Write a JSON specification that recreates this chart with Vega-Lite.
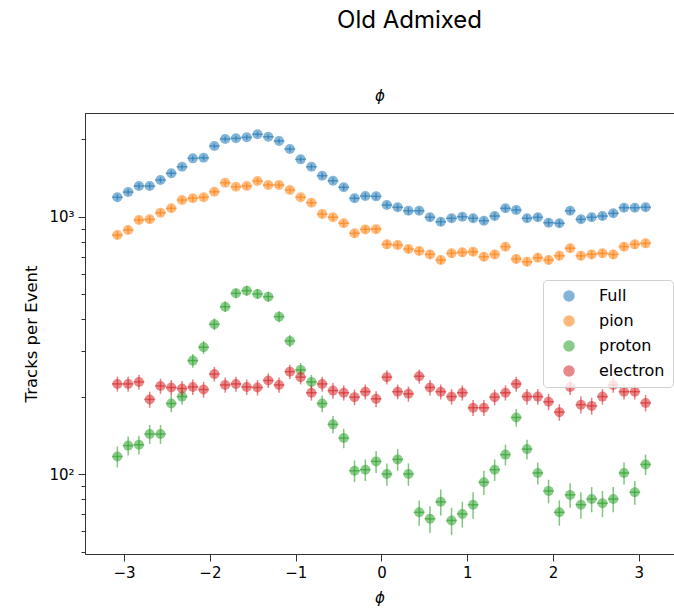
{
  "$schema": "https://vega.github.io/schema/vega-lite/v6.json",
  "width": 589,
  "height": 441,
  "autosize": {"type": "none"},
  "padding": {"left": 85, "top": 113, "right": 0, "bottom": 59},
  "background": "white",
  "title": {"text": "Old Admixed", "font": "Inter", "fontSize": 24, "fontWeight": "normal", "color": "#000", "anchor": "middle", "frame": "group", "dx": 30, "offset": 55},
  "config": {
    "view": {"stroke": "#333", "strokeWidth": 1},
    "axis": {"labelFont": "DejaVu Sans", "titleFont": "DejaVu Sans", "labelColor": "#000", "titleColor": "#000", "labelFontSize": 15, "titleFontSize": 16.5, "titleFontWeight": "normal", "domainColor": "#333", "tickColor": "#333", "grid": false}
  },
  "resolve": {"axis": {"x": "independent", "y": "independent"}},
  "data": {"values": [
    {"s":"Full","x":-3.0788,"v":1190,"e":34},{"s":"Full","x":-2.9531,"v":1247,"e":35},{"s":"Full","x":-2.8274,"v":1316,"e":36},{"s":"Full","x":-2.7018,"v":1316,"e":36},{"s":"Full","x":-2.5761,"v":1389,"e":37},{"s":"Full","x":-2.4504,"v":1475,"e":38},{"s":"Full","x":-2.3248,"v":1564,"e":40},{"s":"Full","x":-2.1991,"v":1686,"e":41},{"s":"Full","x":-2.0735,"v":1695,"e":41},{"s":"Full","x":-1.9478,"v":1883,"e":43},{"s":"Full","x":-1.8221,"v":2004,"e":45},{"s":"Full","x":-1.6965,"v":2017,"e":45},{"s":"Full","x":-1.5708,"v":2035,"e":45},{"s":"Full","x":-1.4451,"v":2091,"e":46},{"s":"Full","x":-1.3195,"v":2046,"e":45},{"s":"Full","x":-1.1938,"v":1969,"e":44},{"s":"Full","x":-1.0681,"v":1833,"e":43},{"s":"Full","x":-0.9425,"v":1671,"e":41},{"s":"Full","x":-0.8168,"v":1564,"e":40},{"s":"Full","x":-0.6912,"v":1443,"e":38},{"s":"Full","x":-0.5655,"v":1380,"e":37},{"s":"Full","x":-0.4398,"v":1301,"e":36},{"s":"Full","x":-0.3142,"v":1179,"e":34},{"s":"Full","x":-0.1885,"v":1203,"e":35},{"s":"Full","x":-0.0628,"v":1200,"e":35},{"s":"Full","x":0.0628,"v":1111,"e":33},{"s":"Full","x":0.1885,"v":1088,"e":33},{"s":"Full","x":0.3142,"v":1055,"e":32},{"s":"Full","x":0.4398,"v":1055,"e":32},{"s":"Full","x":0.5655,"v":995,"e":32},{"s":"Full","x":0.6912,"v":956,"e":31},{"s":"Full","x":0.8168,"v":986,"e":31},{"s":"Full","x":0.9425,"v":1000,"e":32},{"s":"Full","x":1.0681,"v":986,"e":31},{"s":"Full","x":1.1938,"v":965,"e":31},{"s":"Full","x":1.3195,"v":1006,"e":32},{"s":"Full","x":1.4451,"v":1078,"e":33},{"s":"Full","x":1.5708,"v":1062,"e":33},{"s":"Full","x":1.6965,"v":986,"e":31},{"s":"Full","x":1.8221,"v":995,"e":32},{"s":"Full","x":1.9478,"v":948,"e":31},{"s":"Full","x":2.0735,"v":943,"e":31},{"s":"Full","x":2.1991,"v":1055,"e":32},{"s":"Full","x":2.3248,"v":977,"e":31},{"s":"Full","x":2.4504,"v":995,"e":32},{"s":"Full","x":2.5761,"v":1006,"e":32},{"s":"Full","x":2.7018,"v":1031,"e":32},{"s":"Full","x":2.8274,"v":1084,"e":33},{"s":"Full","x":2.9531,"v":1084,"e":33},{"s":"Full","x":3.0788,"v":1088,"e":33},
    {"s":"pion","x":-3.0788,"v":849,"e":29},{"s":"pion","x":-2.9531,"v":888,"e":30},{"s":"pion","x":-2.8274,"v":971,"e":31},{"s":"pion","x":-2.7018,"v":977,"e":31},{"s":"pion","x":-2.5761,"v":1036,"e":32},{"s":"pion","x":-2.4504,"v":1078,"e":33},{"s":"pion","x":-2.3248,"v":1161,"e":34},{"s":"pion","x":-2.1991,"v":1179,"e":34},{"s":"pion","x":-2.0735,"v":1190,"e":34},{"s":"pion","x":-1.9478,"v":1251,"e":35},{"s":"pion","x":-1.8221,"v":1356,"e":37},{"s":"pion","x":-1.6965,"v":1308,"e":36},{"s":"pion","x":-1.5708,"v":1316,"e":36},{"s":"pion","x":-1.4451,"v":1376,"e":37},{"s":"pion","x":-1.3195,"v":1328,"e":36},{"s":"pion","x":-1.1938,"v":1328,"e":36},{"s":"pion","x":-1.0681,"v":1270,"e":36},{"s":"pion","x":-0.9425,"v":1190,"e":34},{"s":"pion","x":-0.8168,"v":1133,"e":34},{"s":"pion","x":-0.6912,"v":1024,"e":32},{"s":"pion","x":-0.5655,"v":995,"e":32},{"s":"pion","x":-0.4398,"v":943,"e":31},{"s":"pion","x":-0.3142,"v":862,"e":29},{"s":"pion","x":-0.1885,"v":893,"e":30},{"s":"pion","x":-0.0628,"v":895,"e":30},{"s":"pion","x":0.0628,"v":781,"e":28},{"s":"pion","x":0.1885,"v":776,"e":28},{"s":"pion","x":0.3142,"v":749,"e":27},{"s":"pion","x":0.4398,"v":736,"e":27},{"s":"pion","x":0.5655,"v":714,"e":27},{"s":"pion","x":0.6912,"v":679,"e":26},{"s":"pion","x":0.8168,"v":721,"e":27},{"s":"pion","x":0.9425,"v":727,"e":27},{"s":"pion","x":1.0681,"v":731,"e":27},{"s":"pion","x":1.1938,"v":699,"e":26},{"s":"pion","x":1.3195,"v":714,"e":27},{"s":"pion","x":1.4451,"v":765,"e":28},{"s":"pion","x":1.5708,"v":685,"e":26},{"s":"pion","x":1.6965,"v":668,"e":26},{"s":"pion","x":1.8221,"v":693,"e":26},{"s":"pion","x":1.9478,"v":679,"e":26},{"s":"pion","x":2.0735,"v":705,"e":27},{"s":"pion","x":2.1991,"v":754,"e":27},{"s":"pion","x":2.3248,"v":705,"e":27},{"s":"pion","x":2.4504,"v":714,"e":27},{"s":"pion","x":2.5761,"v":721,"e":27},{"s":"pion","x":2.7018,"v":714,"e":27},{"s":"pion","x":2.8274,"v":765,"e":28},{"s":"pion","x":2.9531,"v":781,"e":28},{"s":"pion","x":3.0788,"v":788,"e":28},
    {"s":"proton","x":-3.0788,"v":117,"e":11},{"s":"proton","x":-2.9531,"v":129,"e":11},{"s":"proton","x":-2.8274,"v":130,"e":11},{"s":"proton","x":-2.7018,"v":143,"e":12},{"s":"proton","x":-2.5761,"v":143,"e":12},{"s":"proton","x":-2.4504,"v":188,"e":14},{"s":"proton","x":-2.3248,"v":200,"e":14},{"s":"proton","x":-2.1991,"v":276,"e":17},{"s":"proton","x":-2.0735,"v":311,"e":18},{"s":"proton","x":-1.9478,"v":382,"e":20},{"s":"proton","x":-1.8221,"v":447,"e":21},{"s":"proton","x":-1.6965,"v":504,"e":22},{"s":"proton","x":-1.5708,"v":516,"e":23},{"s":"proton","x":-1.4451,"v":501,"e":22},{"s":"proton","x":-1.3195,"v":489,"e":22},{"s":"proton","x":-1.1938,"v":409,"e":20},{"s":"proton","x":-1.0681,"v":329,"e":18},{"s":"proton","x":-0.9425,"v":254,"e":16},{"s":"proton","x":-0.8168,"v":228,"e":15},{"s":"proton","x":-0.6912,"v":188,"e":14},{"s":"proton","x":-0.5655,"v":156,"e":12},{"s":"proton","x":-0.4398,"v":138,"e":12},{"s":"proton","x":-0.3142,"v":103,"e":10},{"s":"proton","x":-0.1885,"v":104,"e":10},{"s":"proton","x":-0.0628,"v":112,"e":11},{"s":"proton","x":0.0628,"v":100,"e":10},{"s":"proton","x":0.1885,"v":114,"e":11},{"s":"proton","x":0.3142,"v":100,"e":10},{"s":"proton","x":0.4398,"v":71,"e":8},{"s":"proton","x":0.5655,"v":67,"e":8},{"s":"proton","x":0.6912,"v":78,"e":9},{"s":"proton","x":0.8168,"v":66,"e":8},{"s":"proton","x":0.9425,"v":70,"e":8},{"s":"proton","x":1.0681,"v":76,"e":9},{"s":"proton","x":1.1938,"v":93,"e":10},{"s":"proton","x":1.3195,"v":104,"e":10},{"s":"proton","x":1.4451,"v":119,"e":11},{"s":"proton","x":1.5708,"v":166,"e":13},{"s":"proton","x":1.6965,"v":125,"e":11},{"s":"proton","x":1.8221,"v":101,"e":10},{"s":"proton","x":1.9478,"v":86,"e":9},{"s":"proton","x":2.0735,"v":71,"e":8},{"s":"proton","x":2.1991,"v":83,"e":9},{"s":"proton","x":2.3248,"v":76,"e":9},{"s":"proton","x":2.4504,"v":80,"e":9},{"s":"proton","x":2.5761,"v":77,"e":9},{"s":"proton","x":2.7018,"v":80,"e":9},{"s":"proton","x":2.8274,"v":101,"e":10},{"s":"proton","x":2.9531,"v":85,"e":9},{"s":"proton","x":3.0788,"v":109,"e":10},
    {"s":"electron","x":-3.0788,"v":224,"e":15},{"s":"electron","x":-2.9531,"v":224,"e":15},{"s":"electron","x":-2.8274,"v":228,"e":15},{"s":"electron","x":-2.7018,"v":195,"e":14},{"s":"electron","x":-2.5761,"v":220,"e":15},{"s":"electron","x":-2.4504,"v":217,"e":15},{"s":"electron","x":-2.3248,"v":215,"e":15},{"s":"electron","x":-2.1991,"v":218,"e":15},{"s":"electron","x":-2.0735,"v":213,"e":15},{"s":"electron","x":-1.9478,"v":245,"e":16},{"s":"electron","x":-1.8221,"v":222,"e":15},{"s":"electron","x":-1.6965,"v":224,"e":15},{"s":"electron","x":-1.5708,"v":218,"e":15},{"s":"electron","x":-1.4451,"v":217,"e":15},{"s":"electron","x":-1.3195,"v":231,"e":15},{"s":"electron","x":-1.1938,"v":222,"e":15},{"s":"electron","x":-1.0681,"v":250,"e":16},{"s":"electron","x":-0.9425,"v":238,"e":15},{"s":"electron","x":-0.8168,"v":207,"e":14},{"s":"electron","x":-0.6912,"v":224,"e":15},{"s":"electron","x":-0.5655,"v":211,"e":15},{"s":"electron","x":-0.4398,"v":207,"e":14},{"s":"electron","x":-0.3142,"v":199,"e":14},{"s":"electron","x":-0.1885,"v":209,"e":14},{"s":"electron","x":-0.0628,"v":196,"e":14},{"s":"electron","x":0.0628,"v":238,"e":15},{"s":"electron","x":0.1885,"v":209,"e":14},{"s":"electron","x":0.3142,"v":205,"e":14},{"s":"electron","x":0.4398,"v":240,"e":15},{"s":"electron","x":0.5655,"v":217,"e":15},{"s":"electron","x":0.6912,"v":209,"e":14},{"s":"electron","x":0.8168,"v":200,"e":14},{"s":"electron","x":0.9425,"v":207,"e":14},{"s":"electron","x":1.0681,"v":181,"e":13},{"s":"electron","x":1.1938,"v":181,"e":13},{"s":"electron","x":1.3195,"v":199,"e":14},{"s":"electron","x":1.4451,"v":207,"e":14},{"s":"electron","x":1.5708,"v":224,"e":15},{"s":"electron","x":1.6965,"v":200,"e":14},{"s":"electron","x":1.8221,"v":200,"e":14},{"s":"electron","x":1.9478,"v":191,"e":14},{"s":"electron","x":2.0735,"v":174,"e":13},{"s":"electron","x":2.1991,"v":218,"e":15},{"s":"electron","x":2.3248,"v":186,"e":14},{"s":"electron","x":2.4504,"v":184,"e":14},{"s":"electron","x":2.5761,"v":200,"e":14},{"s":"electron","x":2.7018,"v":222,"e":15},{"s":"electron","x":2.8274,"v":209,"e":14},{"s":"electron","x":2.9531,"v":209,"e":14},{"s":"electron","x":3.0788,"v":189,"e":14}
  ]},
  "layer": [
    {
      "mark": {"type": "point", "filled": true, "shape": "circle", "size": 100, "opacity": 0.55},
      "encoding": {
        "x": {"field": "x", "type": "quantitative", "scale": {"domain": [-3.456, 3.41], "nice": false, "zero": false}, "axis": {"orient": "bottom", "title": "ϕ", "titleFontStyle": "italic", "titleFontSize": 15, "values": [-3, -2, -1, 0, 1, 2, 3], "tickSize": 7, "labelPadding": 4, "titlePadding": 10}},
        "y": {"field": "v", "type": "quantitative", "scale": {"type": "log", "domain": [48.9, 2530], "nice": false}, "axis": {"orient": "left", "title": "Tracks per Event", "values": [50, 60, 70, 80, 90, 100, 200, 300, 400, 500, 600, 700, 800, 900, 1000, 2000], "labelExpr": "datum.value == 100 ? '10²' : (datum.value == 1000 ? '10³' : '')", "tickSize": 7, "tickDash": {"condition": {"test": "datum.value == 100 || datum.value == 1000", "value": []}, "value": [4, 20]}, "labelPadding": 4, "titlePadding": 9}},
        "color": {"field": "s", "type": "nominal", "scale": {"domain": ["Full", "pion", "proton", "electron"], "range": ["#1f77b4", "#ff7f0e", "#2ca02c", "#d62728"]}, "legend": {"orient": "none", "legendX": 458, "legendY": 167, "title": null, "fillColor": "rgba(255,255,255,0.8)", "strokeColor": "#d0d0d0", "cornerRadius": 4, "padding": 8, "labelFont": "DejaVu Sans", "labelFontSize": 16, "labelColor": "#000", "symbolSize": 100, "symbolOpacity": 0.55, "symbolType": "circle", "rowPadding": 9, "labelOffset": 22, "symbolOffset": 10}}
      }
    },
    {
      "mark": {"type": "errorbar", "thickness": 1.5},
      "encoding": {
        "x": {"field": "x", "type": "quantitative", "axis": null},
        "y": {"field": "v", "type": "quantitative", "axis": null},
        "yError": {"field": "e"},
        "color": {"field": "s", "type": "nominal", "legend": null},
        "opacity": {"value": 0.6}
      }
    },
    {
      "mark": {"type": "tick", "orient": "horizontal", "thickness": 1.5, "size": 10.8},
      "encoding": {
        "x": {"field": "x", "type": "quantitative", "axis": {"orient": "top", "title": "ϕ", "titleFontStyle": "italic", "titleFontSize": 15, "labels": false, "ticks": false, "domain": false, "titlePadding": 10}},
        "y": {"field": "v", "type": "quantitative", "axis": null},
        "color": {"field": "s", "type": "nominal", "legend": null},
        "opacity": {"value": 0.6}
      }
    }
  ]
}
